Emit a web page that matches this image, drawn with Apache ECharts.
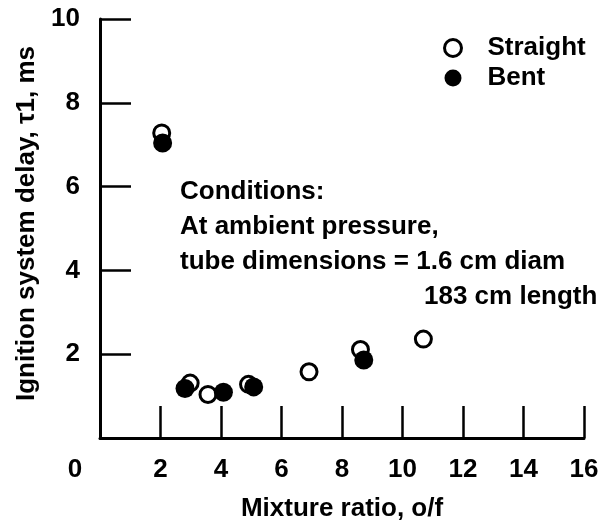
<!DOCTYPE html>
<html>
<head>
<meta charset="utf-8">
<script src="https://cdn.jsdelivr.net/npm/echarts@6/dist/echarts.min.js"></script>
<style>
	html, body { margin: 0; padding: 0; background: #fff; }
	#chart { width: 608px; height: 522px; }
</style>
</head>
<body>
<div id="chart"></div>
<script>
	var straightX = [2.04, 2.98, 3.57, 4.91, 6.91, 8.61, 10.69];
	var straightY = [7.28, 1.31, 1.04, 1.28, 1.58, 2.11, 2.36];
	var bentX = [2.07, 2.81, 4.08, 5.08, 8.72];
	var bentY = [7.04, 1.18, 1.09, 1.22, 1.86];
	var seriesNames = ['Straight', 'Bent'];
	var noteLines = ['Conditions:', 'At ambient pressure,', 'tube dimensions = 1.6 cm diam'];
	var noteLast = '183 cm length';

	var font = '"Liberation Sans", Arial, Helvetica, sans-serif';

	function pairs(xs, ys) {
		return xs.map(function (x, i) { return [x, ys[i]]; });
	}

	var chart = echarts.init(document.getElementById('chart'), null, { renderer: 'canvas' });

	var option = {
		backgroundColor: '#fff',
		animation: false,
		textStyle: { fontFamily: font, color: '#000' },
		grid: { left: 100, right: 24, top: 19, bottom: 84, containLabel: false, outerBoundsMode: 'none' },
		legend: {
			orient: 'vertical',
			left: 438,
			top: 30,
			itemWidth: 17,
			itemHeight: 17,
			itemGap: 4,
			textStyle: {
				fontFamily: font, fontSize: 26, fontWeight: 'bold', color: '#000',
				lineHeight: 26, padding: [0, 0, 0, 21]
			},
			data: [
				{ name: seriesNames[0], icon: 'circle', itemStyle: { color: '#fff', borderColor: '#000', borderWidth: 3 } },
				{ name: seriesNames[1], icon: 'circle', itemStyle: { color: '#000', borderWidth: 0 } }
			]
		},
		xAxis: {
			type: 'value',
			min: 0,
			max: 16,
			interval: 2,
			name: 'Mixture ratio, o/f',
			nameLocation: 'middle',
			nameGap: 58,
			nameTextStyle: { fontFamily: font, fontSize: 26, fontWeight: 'bold', color: '#000' },
			axisLine: { show: true, lineStyle: { color: '#000', width: 3 } },
			axisTick: { show: true, inside: true, length: 32, lineStyle: { color: '#000', width: 2.5 } },
			splitLine: { show: false },
			axisLabel: {
				margin: 19,
				fontFamily: font, fontSize: 26, fontWeight: 'bold', color: '#000',
				formatter: function (v) { return v === 0 ? '{o|0}' : String(v); },
				rich: { o: { fontFamily: font, fontSize: 26, fontWeight: 'bold', color: '#000', padding: [0, 50, 0, 0] } }
			}
		},
		yAxis: {
			type: 'value',
			min: 0,
			max: 10,
			interval: 2,
			name: 'Ignition system delay, \u03c41, ms',
			nameLocation: 'middle',
			nameGap: 58,
			nameRotate: 90,
			nameTextStyle: { fontFamily: font, fontSize: 26, fontWeight: 'bold', color: '#000', padding: [0, 0, 0, 10] },
			axisLine: { show: true, lineStyle: { color: '#000', width: 3 } },
			axisTick: { show: true, inside: true, length: 31, lineStyle: { color: '#000', width: 2.5 } },
			splitLine: { show: false },
			axisLabel: {
				margin: 20,
				fontFamily: font, fontSize: 26, fontWeight: 'bold', color: '#000',
				formatter: function (v) { return v === 0 ? '' : String(v); }
			}
		},
		graphic: [
			{
				type: 'text',
				left: 180,
				top: 174,
				style: {
					text: noteLines.join('\n'),
					font: 'bold 26px ' + font,
					lineHeight: 35,
					fill: '#000'
				}
			},
			{
				type: 'text',
				left: 424,
				top: 279,
				style: {
					text: noteLast,
					font: 'bold 26px ' + font,
					lineHeight: 35,
					fill: '#000'
				}
			}
		],
		series: [
			{
				name: seriesNames[0],
				type: 'scatter',
				symbol: 'circle',
				symbolSize: 16,
				data: pairs(straightX, straightY),
				itemStyle: { color: '#fff', borderColor: '#000', borderWidth: 3, opacity: 1 },
				z: 2
			},
			{
				name: seriesNames[1],
				type: 'scatter',
				symbol: 'circle',
				symbolSize: 19,
				data: pairs(bentX, bentY),
				itemStyle: { color: '#000', opacity: 1 },
				z: 3
			}
		]
	};

	chart.setOption(option);
</script>
</body>
</html>
